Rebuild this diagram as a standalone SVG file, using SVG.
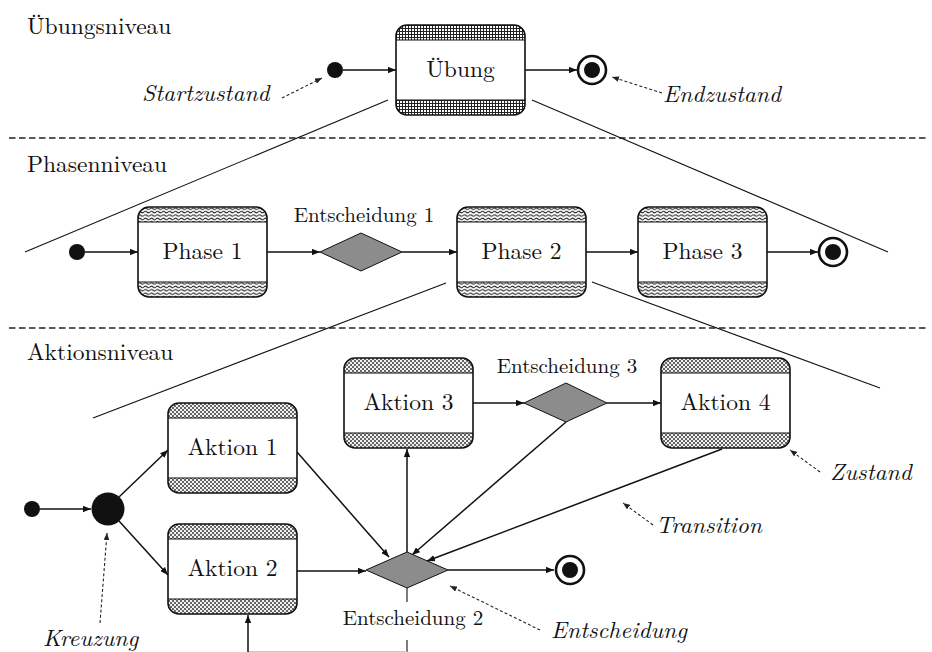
<svg xmlns="http://www.w3.org/2000/svg" xmlns:xlink="http://www.w3.org/1999/xlink" width="932" height="652" viewBox="0 0 932 652">
<style>
text{font-family:'Latin Modern Roman','Liberation Serif',serif;fill:#111}
.lvl{font-size:23.5px}
.lbl{font-size:23.5px;text-anchor:middle}
.dec{font-size:21px;text-anchor:middle}
.ann{font-size:23.5px;font-style:italic}
.box{fill:none;stroke:#111;stroke-width:1.6}
.sep{stroke:#111;stroke-width:1.2}
.con{stroke:#111;stroke-width:1.5;fill:none;marker-end:url(#ah)}
.thin{stroke:#111;stroke-width:1.1;fill:none}
.dash{stroke:#222;stroke-width:1.1;fill:none;stroke-dasharray:3 2.2;marker-end:url(#ahs)}
.hr{stroke:#222;stroke-width:1.6;stroke-dasharray:6.5 3.5}
.dia{fill:#8c8c8c;stroke:#111;stroke-width:1}
.grid{fill:url(#pGrid)}
.wave{fill:url(#pWave)}
.dots{fill:url(#pDots)}
.endo{fill:#fff;stroke:#111;stroke-width:2.6}
</style>
<defs>
<pattern id="pGrid" width="3" height="3" patternUnits="userSpaceOnUse">
<rect width="3" height="3" fill="#fff"/>
<path d="M0,0.5H3M0.5,0V3" stroke="#222" stroke-width="1"/>
</pattern>
<pattern id="pWave" width="6" height="3.4" patternUnits="userSpaceOnUse">
<rect width="6" height="3.4" fill="#fff"/>
<path d="M0,1.7 Q1.5,0.1 3,1.7 T6,1.7" stroke="#222" stroke-width="1" fill="none"/>
</pattern>
<pattern id="pDots" width="4" height="4" patternUnits="userSpaceOnUse">
<rect width="4" height="4" fill="#f0f0f0"/>
<circle cx="1" cy="1" r="0.95" fill="#2a2a2a"/>
<circle cx="3" cy="3" r="0.95" fill="#2a2a2a"/>
</pattern>
<marker id="ah" viewBox="0 0 10 8" refX="10" refY="4" markerWidth="8" markerHeight="6.4" markerUnits="userSpaceOnUse" orient="auto">
<path d="M0,0 L10,4 L0,8 Z" fill="#111"/>
</marker>
<marker id="ahs" viewBox="0 0 10 8" refX="10" refY="4" markerWidth="7" markerHeight="5.6" markerUnits="userSpaceOnUse" orient="auto">
<path d="M0,0 L10,4 L0,8 Z" fill="#222"/>
</marker>
<path id="bt" d="M0,15 V11 A11,11 0 0 1 11,0 H118 A11,11 0 0 1 129,11 V15 Z"/>
<path id="bb" d="M0,75 V79 A11,11 0 0 0 11,90 H118 A11,11 0 0 0 129,79 V75 Z"/>
</defs>
<rect width="932" height="652" fill="#fff"/>

<!-- level labels and separators -->
<g id="levels">
<text class="lvl" x="27" y="34">Übungsniveau</text>
<text class="lvl" x="27" y="172">Phasenniveau</text>
<text class="lvl" x="27" y="360">Aktionsniveau</text>
<line class="hr" x1="9" y1="138" x2="926" y2="138"/>
<line class="hr" x1="9" y1="328" x2="926" y2="328"/>
</g>

<!-- zoom (funnel) lines -->
<g id="funnels">
<line class="thin" x1="388" y1="100" x2="25" y2="252"/>
<line class="thin" x1="532" y1="100" x2="888" y2="252"/>
<line class="thin" x1="446" y1="283" x2="93" y2="418"/>
<line class="thin" x1="592" y1="282" x2="880" y2="388"/>
</g>

<!-- connectors -->
<g id="connectors">
<line class="con" x1="343" y1="70" x2="396" y2="70"/>
<line class="con" x1="524" y1="70" x2="577" y2="70"/>
<line class="con" x1="85" y1="252" x2="138" y2="252"/>
<line class="con" x1="267" y1="252" x2="320" y2="252"/>
<line class="con" x1="402" y1="252" x2="457" y2="252"/>
<line class="con" x1="586" y1="252" x2="638" y2="252"/>
<line class="con" x1="767" y1="252" x2="818" y2="252"/>
<line class="con" x1="40" y1="509" x2="91" y2="509"/>
<line class="con" x1="119" y1="497" x2="168" y2="450"/>
<line class="con" x1="119" y1="521" x2="168" y2="575"/>
<line class="con" x1="473" y1="403" x2="524" y2="403"/>
<line class="con" x1="607" y1="403" x2="661" y2="403"/>
<line class="con" x1="297" y1="452" x2="389" y2="557"/>
<line class="con" x1="297" y1="571" x2="366" y2="571"/>
<line class="con" x1="407" y1="552" x2="407" y2="449"/>
<line class="con" x1="566" y1="422" x2="412" y2="555"/>
<line class="con" x1="722" y1="449" x2="427" y2="561"/>
<line class="con" x1="448" y1="570" x2="554" y2="570"/>
<line class="thin" x1="407" y1="588" x2="407" y2="602" stroke-width="1.5"/>
<line class="thin" x1="407" y1="640" x2="407" y2="652" stroke-width="1.5"/>
<line x1="248" y1="651.5" x2="407" y2="651.5" stroke="#c8c8c8" stroke-width="1"/>
<line class="con" x1="248" y1="652" x2="248" y2="615"/>
</g>

<!-- annotations -->
<g id="annotations">
<text class="ann" x="142" y="101">Startzustand</text>
<line class="dash" x1="282" y1="98" x2="322" y2="78"/>
<text class="ann" x="663" y="102">Endzustand</text>
<line class="dash" x1="662" y1="93" x2="612" y2="77"/>
<text class="ann" x="43" y="646">Kreuzung</text>
<line class="dash" x1="100" y1="623" x2="107" y2="533"/>
<text class="ann" x="551" y="638">Entscheidung</text>
<line class="dash" x1="540" y1="630" x2="450" y2="586"/>
<text class="ann" x="656" y="533">Transition</text>
<line class="dash" x1="653" y1="525" x2="623" y2="503"/>
<text class="ann" x="830" y="480">Zustand</text>
<line class="dash" x1="820" y1="472" x2="790" y2="450"/>
</g>

<!-- Übungsniveau nodes -->
<g id="start0"><circle cx="335" cy="70" r="8" fill="#111"/></g>
<g id="uebung" transform="translate(396,25)">
<rect width="129" height="90" rx="11" fill="#fff"/>
<use href="#bt" class="grid"/><use href="#bb" class="grid"/>
<line class="sep" x1="0" y1="15" x2="129" y2="15"/><line class="sep" x1="0" y1="75" x2="129" y2="75"/>
<rect class="box" width="129" height="90" rx="11"/>
<text class="lbl" x="64.5" y="52">Übung</text>
</g>
<g id="end0"><circle class="endo" cx="592" cy="70" r="14"/><circle cx="592" cy="70" r="8" fill="#111"/></g>

<!-- Phasenniveau nodes -->
<g id="start1"><circle cx="77" cy="252" r="8" fill="#111"/></g>
<g id="phase1" transform="translate(138,207)">
<rect width="129" height="90" rx="11" fill="#fff"/>
<use href="#bt" class="wave"/><use href="#bb" class="wave"/>
<line class="sep" x1="0" y1="15" x2="129" y2="15"/><line class="sep" x1="0" y1="75" x2="129" y2="75"/>
<rect class="box" width="129" height="90" rx="11"/>
<text class="lbl" x="64.5" y="52">Phase 1</text>
</g>
<g id="entscheidung1">
<polygon class="dia" points="320,252 361,233 402,252 361,271"/>
<text class="dec" x="364" y="222">Entscheidung 1</text>
</g>
<g id="phase2" transform="translate(457,207)">
<rect width="129" height="90" rx="11" fill="#fff"/>
<use href="#bt" class="wave"/><use href="#bb" class="wave"/>
<line class="sep" x1="0" y1="15" x2="129" y2="15"/><line class="sep" x1="0" y1="75" x2="129" y2="75"/>
<rect class="box" width="129" height="90" rx="11"/>
<text class="lbl" x="64.5" y="52">Phase 2</text>
</g>
<g id="phase3" transform="translate(638,207)">
<rect width="129" height="90" rx="11" fill="#fff"/>
<use href="#bt" class="wave"/><use href="#bb" class="wave"/>
<line class="sep" x1="0" y1="15" x2="129" y2="15"/><line class="sep" x1="0" y1="75" x2="129" y2="75"/>
<rect class="box" width="129" height="90" rx="11"/>
<text class="lbl" x="64.5" y="52">Phase 3</text>
</g>
<g id="end1"><circle class="endo" cx="833" cy="252" r="14"/><circle cx="833" cy="252" r="8" fill="#111"/></g>

<!-- Aktionsniveau nodes -->
<g id="start2"><circle cx="32" cy="509" r="8" fill="#111"/></g>
<g id="kreuzung"><circle cx="108" cy="509" r="16.5" fill="#111"/></g>
<g id="aktion1" transform="translate(168,403)">
<rect width="129" height="90" rx="11" fill="#fff"/>
<use href="#bt" class="dots"/><use href="#bb" class="dots"/>
<line class="sep" x1="0" y1="15" x2="129" y2="15"/><line class="sep" x1="0" y1="75" x2="129" y2="75"/>
<rect class="box" width="129" height="90" rx="11"/>
<text class="lbl" x="64.5" y="52">Aktion 1</text>
</g>
<g id="aktion2" transform="translate(168,524)">
<rect width="129" height="90" rx="11" fill="#fff"/>
<use href="#bt" class="dots"/><use href="#bb" class="dots"/>
<line class="sep" x1="0" y1="15" x2="129" y2="15"/><line class="sep" x1="0" y1="75" x2="129" y2="75"/>
<rect class="box" width="129" height="90" rx="11"/>
<text class="lbl" x="64.5" y="52">Aktion 2</text>
</g>
<g id="aktion3" transform="translate(344,358)">
<rect width="129" height="90" rx="11" fill="#fff"/>
<use href="#bt" class="dots"/><use href="#bb" class="dots"/>
<line class="sep" x1="0" y1="15" x2="129" y2="15"/><line class="sep" x1="0" y1="75" x2="129" y2="75"/>
<rect class="box" width="129" height="90" rx="11"/>
<text class="lbl" x="64.5" y="52">Aktion 3</text>
</g>
<g id="entscheidung3">
<polygon class="dia" points="524,403 566,383 607,403 566,422"/>
<text class="dec" x="567" y="373">Entscheidung 3</text>
</g>
<g id="aktion4" transform="translate(661,358)">
<rect width="129" height="90" rx="11" fill="#fff"/>
<use href="#bt" class="dots"/><use href="#bb" class="dots"/>
<line class="sep" x1="0" y1="15" x2="129" y2="15"/><line class="sep" x1="0" y1="75" x2="129" y2="75"/>
<rect class="box" width="129" height="90" rx="11"/>
<text class="lbl" x="64.5" y="52">Aktion 4</text>
</g>
<g id="entscheidung2">
<polygon class="dia" points="366,570 407,552 448,570 407,588"/>
<text class="dec" x="413" y="625">Entscheidung 2</text>
</g>
<g id="end2"><circle class="endo" cx="570" cy="570" r="14"/><circle cx="570" cy="570" r="8" fill="#111"/></g>
</svg>
